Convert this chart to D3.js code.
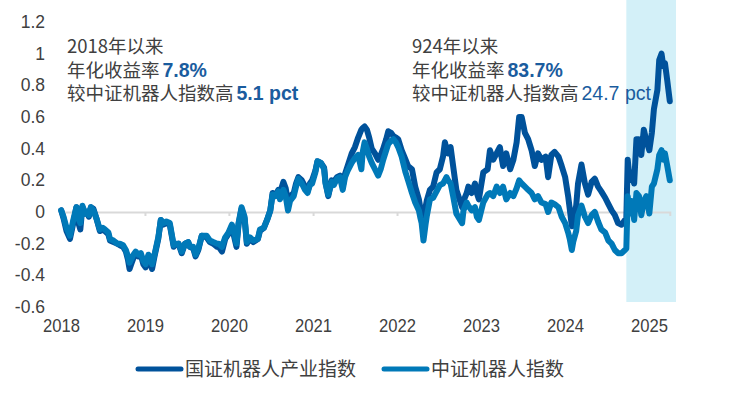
<!DOCTYPE html>
<html>
<head>
<meta charset="utf-8">
<script src="https://cdn.jsdelivr.net/npm/d3@7"></script>
<style>
  body { margin: 0; background: #fff; }
  svg { display: block; }
  text { font-family: "Liberation Sans", Arial, "Noto Sans CJK SC", sans-serif; fill: #404040; }
</style>
</head>
<body>
<div id="chart"></div>
<script>
// ---- data ----
var dates = [
  '2018-01-02','2018-01-12','2018-01-25','2018-02-09','2018-02-22','2018-03-09','2018-03-20','2018-03-26',
  '2018-04-04','2018-04-16','2018-04-24','2018-05-02','2018-05-11','2018-05-22','2018-06-04','2018-06-19',
  '2018-07-02','2018-07-11','2018-07-26','2018-08-02','2018-08-17','2018-09-03','2018-09-14','2018-09-28',
  '2018-10-10','2018-10-19','2018-10-26','2018-11-02','2018-11-12','2018-11-22','2018-12-03','2018-12-14',
  '2018-12-25',
  '2019-01-04','2019-01-16','2019-01-22','2019-02-01','2019-02-13','2019-02-28','2019-03-11','2019-03-22',
  '2019-04-04','2019-04-19','2019-05-06','2019-05-10','2019-05-27','2019-06-10','2019-06-24','2019-07-08',
  '2019-07-15','2019-07-30','2019-08-09','2019-08-21','2019-09-05','2019-09-26','2019-10-10','2019-10-25',
  '2019-11-11','2019-11-18','2019-12-02','2019-12-16','2019-12-30',
  '2020-01-14','2020-01-23','2020-02-03','2020-02-12','2020-02-25','2020-03-09','2020-03-19','2020-04-01',
  '2020-04-16','2020-05-06','2020-05-15','2020-06-01','2020-06-15','2020-06-29','2020-07-09','2020-07-20',
  '2020-08-03','2020-08-10','2020-08-25','2020-09-04','2020-09-14','2020-09-23','2020-10-09','2020-10-19',
  '2020-10-29','2020-11-13','2020-11-27','2020-12-08','2020-12-18','2020-12-28',
  '2021-01-11','2021-01-20','2021-02-04','2021-02-18','2021-02-24','2021-03-08','2021-03-23','2021-04-01',
  '2021-04-15','2021-04-28','2021-05-10','2021-05-20','2021-05-31','2021-06-18','2021-07-02','2021-07-16',
  '2021-07-30','2021-08-05','2021-08-13','2021-08-23','2021-09-02','2021-09-13','2021-09-27','2021-10-11',
  '2021-10-22','2021-11-02','2021-11-15','2021-11-24','2021-12-06','2021-12-16','2021-12-27',
  '2022-01-06','2022-01-21','2022-02-07','2022-02-18','2022-03-07','2022-03-21','2022-04-06','2022-04-13',
  '2022-04-18','2022-04-26','2022-05-05','2022-05-10','2022-05-24','2022-06-07','2022-06-22','2022-07-06',
  '2022-07-20','2022-07-28','2022-08-04','2022-08-11','2022-08-22','2022-09-02','2022-09-16','2022-10-11',
  '2022-10-17','2022-10-31','2022-11-07','2022-11-21','2022-12-06','2022-12-14','2022-12-23',
  '2023-01-11','2023-01-30','2023-02-09','2023-02-23','2023-03-10','2023-03-24','2023-04-07','2023-04-21',
  '2023-05-08','2023-05-22','2023-06-05','2023-06-16','2023-06-27','2023-07-11','2023-07-25','2023-08-09',
  '2023-08-23','2023-09-06','2023-09-21','2023-10-09','2023-10-20','2023-11-03','2023-11-17','2023-12-04',
  '2023-12-18',
  '2024-01-02','2024-01-15','2024-01-22','2024-01-31','2024-02-06','2024-02-19','2024-02-27','2024-03-13',
  '2024-03-28','2024-04-11','2024-04-26','2024-05-10','2024-05-24','2024-06-07','2024-06-24','2024-07-08',
  '2024-07-22','2024-08-05','2024-08-19','2024-09-03','2024-09-18','2024-09-24','2024-09-30','2024-10-09',
  '2024-10-17','2024-10-28','2024-11-07','2024-11-18','2024-11-28','2024-12-09','2024-12-20',
  '2025-01-02','2025-01-13','2025-01-22','2025-02-06','2025-02-14','2025-02-24','2025-03-04','2025-03-11',
  '2025-03-21','2025-04-01'
];

// 国证机器人产业指数 (dark)
var industryValues = [
  0.01,-0.04,-0.12,-0.17,-0.08,0.03,-0.08,-0.11,
  0.03,-0.01,0.00,-0.03,0.03,0.02,-0.04,-0.12,
  -0.11,-0.12,-0.14,-0.18,-0.19,-0.20,-0.21,-0.22,
  -0.25,-0.30,-0.36,-0.33,-0.29,-0.26,-0.28,-0.27,
  -0.33,
  -0.35,-0.29,-0.30,-0.36,-0.27,-0.17,-0.05,-0.08,
  -0.07,-0.08,-0.22,-0.21,-0.20,-0.26,-0.20,-0.19,
  -0.22,-0.23,-0.28,-0.24,-0.15,-0.16,-0.19,-0.20,
  -0.22,-0.22,-0.25,-0.17,-0.14,
  -0.09,-0.15,-0.22,-0.08,0.02,-0.04,-0.20,-0.17,
  -0.19,-0.17,-0.12,-0.10,-0.05,0.01,0.12,0.10,
  0.14,0.12,0.19,0.15,0.06,0.10,0.12,0.18,
  0.22,0.20,0.16,0.13,0.18,0.20,
  0.26,0.32,0.31,0.28,0.19,0.10,0.20,0.19,
  0.22,0.23,0.16,0.24,0.29,0.37,0.41,0.47,
  0.52,0.53,0.54,0.52,0.47,0.40,0.37,0.33,
  0.36,0.40,0.46,0.51,0.50,0.48,0.47,
  0.46,0.39,0.33,0.29,0.27,0.16,0.08,0.02,
  -0.01,-0.03,0.03,0.07,0.14,0.16,0.25,0.27,
  0.35,0.44,0.40,0.37,0.41,0.29,0.14,0.03,
  0.07,0.12,0.16,0.12,0.18,0.12,0.08,
  0.25,0.27,0.39,0.33,0.37,0.41,0.29,0.37,
  0.27,0.33,0.44,0.60,0.60,0.50,0.46,0.39,
  0.29,0.37,0.33,0.35,0.22,0.36,0.38,0.35,
  0.29,
  0.22,0.10,0.02,-0.09,-0.05,0.04,0.18,0.30,
  0.18,0.11,0.19,0.21,0.16,0.13,0.09,0.05,
  0.01,-0.02,-0.07,-0.08,-0.05,-0.04,0.33,0.20,
  0.25,0.18,0.46,0.46,0.36,0.52,0.45,
  0.39,0.50,0.65,0.77,0.96,1.00,0.92,0.94,
  0.83,0.70
];

// 中证机器人指数 (light)
var csiValues = [
  0.01,-0.03,-0.10,-0.15,-0.06,0.03,-0.05,-0.07,
  0.04,-0.01,0.00,-0.02,0.03,0.01,-0.04,-0.11,
  -0.10,-0.11,-0.13,-0.17,-0.18,-0.20,-0.20,-0.21,
  -0.24,-0.28,-0.32,-0.30,-0.27,-0.25,-0.27,-0.26,
  -0.31,
  -0.33,-0.27,-0.28,-0.33,-0.26,-0.16,-0.05,-0.07,
  -0.06,-0.07,-0.21,-0.20,-0.20,-0.25,-0.20,-0.19,
  -0.22,-0.22,-0.27,-0.23,-0.15,-0.15,-0.18,-0.19,
  -0.20,-0.20,-0.22,-0.16,-0.13,
  -0.08,-0.13,-0.20,-0.07,0.03,-0.03,-0.19,-0.16,
  -0.18,-0.17,-0.11,-0.10,-0.05,0.01,0.11,0.10,
  0.13,0.08,0.14,0.10,0.01,0.07,0.10,0.16,
  0.21,0.18,0.14,0.12,0.17,0.18,
  0.25,0.32,0.31,0.27,0.18,0.11,0.19,0.17,
  0.21,0.22,0.14,0.22,0.26,0.31,0.34,0.36,
  0.27,0.38,0.44,0.40,0.35,0.31,0.27,0.23,
  0.27,0.33,0.39,0.43,0.45,0.46,0.44,
  0.41,0.35,0.25,0.20,0.12,0.06,0.01,-0.04,
  -0.07,-0.18,-0.08,-0.03,0.08,0.09,0.13,0.17,
  0.18,0.20,0.22,0.20,0.18,0.10,-0.01,-0.07,
  0.01,0.06,0.04,0.01,0.03,-0.03,-0.05,
  0.06,0.11,0.12,0.10,0.16,0.12,0.16,0.08,
  0.12,0.10,0.15,0.20,0.18,0.16,0.14,0.12,
  0.08,0.10,0.06,0.05,0.00,0.06,0.05,0.03,
  -0.03,
  -0.07,-0.13,-0.17,-0.24,-0.19,-0.12,-0.02,0.04,
  -0.03,-0.07,-0.02,0.00,-0.06,-0.11,-0.13,-0.18,
  -0.20,-0.24,-0.26,-0.26,-0.24,-0.23,0.10,-0.01,
  0.07,-0.05,0.12,0.10,-0.02,0.07,0.10,
  -0.01,0.16,0.18,0.27,0.36,0.39,0.33,0.37,
  0.29,0.20
];

var seriesNames = ['国证机器人产业指数', '中证机器人指数'];
var seriesColors = ['#00529b', '#0079b8'];
var yTicks = [-0.6, -0.4, -0.2, 0, 0.2, 0.4, 0.6, 0.8, 1, 1.2];
var yearTicks = ['2018','2019','2020','2021','2022','2023','2024','2025'];
var bandStart = '2024-09-24', bandEnd = '2025-04-28';

// annotation lines: [text, style] where style 0 = plain, 1 = bold figure, 2 = figure
var notes = [
  [ [['2018年以来', 0]], [['年化收益率', 0], ['7.8%', 1]], [['较中证机器人指数高', 0], ['5.1 pct', 1]] ],
  [ [['924年以来', 0]], [['年化收益率', 0], ['83.7%', 1]], [['较中证机器人指数高', 0], ['24.7 pct', 2]] ]
];

// ---- drawing ----
var width = 751, height = 399;
var parse = d3.timeParse('%Y-%m-%d');

var svg = d3.select('#chart').append('svg')
  .attr('width', width).attr('height', height);

var x = d3.scaleTime()
  .domain([parse('2018-01-01'), parse('2025-04-01')])
  .range([61, 669.8]);
var y = d3.scaleLinear()
  .domain([-0.6, 1.2])
  .range([307, 22]);

// highlight band since 924
svg.append('rect')
  .attr('x', x(parse(bandStart)))
  .attr('y', 0)
  .attr('width', x(parse(bandEnd)) - x(parse(bandStart)))
  .attr('height', 302)
  .attr('fill', '#d3f0f8');

// zero line + year ticks
var zeroAxis = d3.axisBottom(x)
  .tickValues(yearTicks.map(function(d) { return parse(d + '-01-01'); }))
  .tickSize(4)
  .tickFormat('');
var zg = svg.append('g').attr('transform', 'translate(0,' + y(0) + ')').call(zeroAxis);
zg.select('.domain').attr('stroke', '#d9d9d9').attr('stroke-width', 2);
zg.selectAll('.tick line').attr('stroke', '#d9d9d9').attr('stroke-width', 2);

// y labels
var yAxis = d3.axisLeft(y)
  .tickValues(yTicks)
  .tickSize(0)
  .tickPadding(0)
  .tickFormat(function(d) { return String(+d.toFixed(1)); });
var yg = svg.append('g').attr('transform', 'translate(45,0)').call(yAxis);
yg.select('.domain').remove();
yg.selectAll('text').attr('font-size', 17.5).attr('fill', '#404040')
  .attr('font-family', '"Liberation Sans", Arial, sans-serif');

// x labels (slightly condensed like the original)
var xAxis = d3.axisBottom(x)
  .tickValues(yearTicks.map(function(d) { return parse(d + '-01-01'); }))
  .tickSize(0)
  .tickPadding(0)
  .tickFormat(d3.timeFormat('%Y'));
var xg = svg.append('g').attr('transform', 'translate(0,319)').call(xAxis);
xg.select('.domain').remove();
xg.selectAll('text').attr('font-size', 18.5).attr('fill', '#404040')
  .attr('font-family', '"Liberation Sans", Arial, sans-serif')
  .attr('transform', 'scale(0.9,1)')
  .attr('x', function() { return 0; });
xg.selectAll('.tick').each(function() {
  // keep condensed label centred on its tick
  d3.select(this).select('text').attr('transform', 'scale(0.9,1)');
});

// lines
var pts = dates.map(parse);
var line = d3.line()
  .x(function(d) { return x(d[0]); })
  .y(function(d) { return y(d[1]); });

[industryValues, csiValues].forEach(function(vals, i) {
  svg.append('path')
    .datum(pts.map(function(p, j) { return [p, vals[j]]; }))
    .attr('d', line)
    .attr('fill', 'none')
    .attr('stroke', seriesColors[i])
    .attr('stroke-width', 6)
    .attr('stroke-linejoin', 'round')
    .attr('stroke-linecap', 'round');
});

// annotations
var noteX = [67, 412];
notes.forEach(function(n, k) {
  n.forEach(function(parts, li) {
    var t = svg.append('text')
      .attr('x', noteX[k])
      .attr('y', 53 + li * 23.5)
      .attr('font-size', 18.5);
    parts.forEach(function(p, pi) {
      t.append('tspan')
        .text(p[0])
        .attr('dx', pi > 0 ? 3 : 0)
        .attr('font-size', p[1] ? 19.5 : 18.5)
        .attr('fill', p[1] ? '#1a5c9e' : '#404040')
        .attr('font-weight', p[1] === 1 ? 'bold' : 'normal')
        .attr('font-family', p[1] ? '"Liberation Sans", Arial, sans-serif' : '"Noto Sans CJK SC", sans-serif');
    });
  });
});

// legend
var legendX = [137, 383];
seriesNames.forEach(function(name, i) {
  var g = svg.append('g').attr('transform', 'translate(' + legendX[i] + ',369)');
  g.append('line')
    .attr('x1', 1).attr('x2', 44).attr('y1', 0).attr('y2', 0)
    .attr('stroke', seriesColors[i]).attr('stroke-width', 5)
    .attr('stroke-linecap', 'round');
  g.append('text')
    .attr('x', 48).attr('y', 0).attr('dy', '0.35em')
    .attr('font-size', 19)
    .attr('font-family', '"Noto Sans CJK SC", sans-serif')
    .text(name);
});
</script>
</body>
</html>
